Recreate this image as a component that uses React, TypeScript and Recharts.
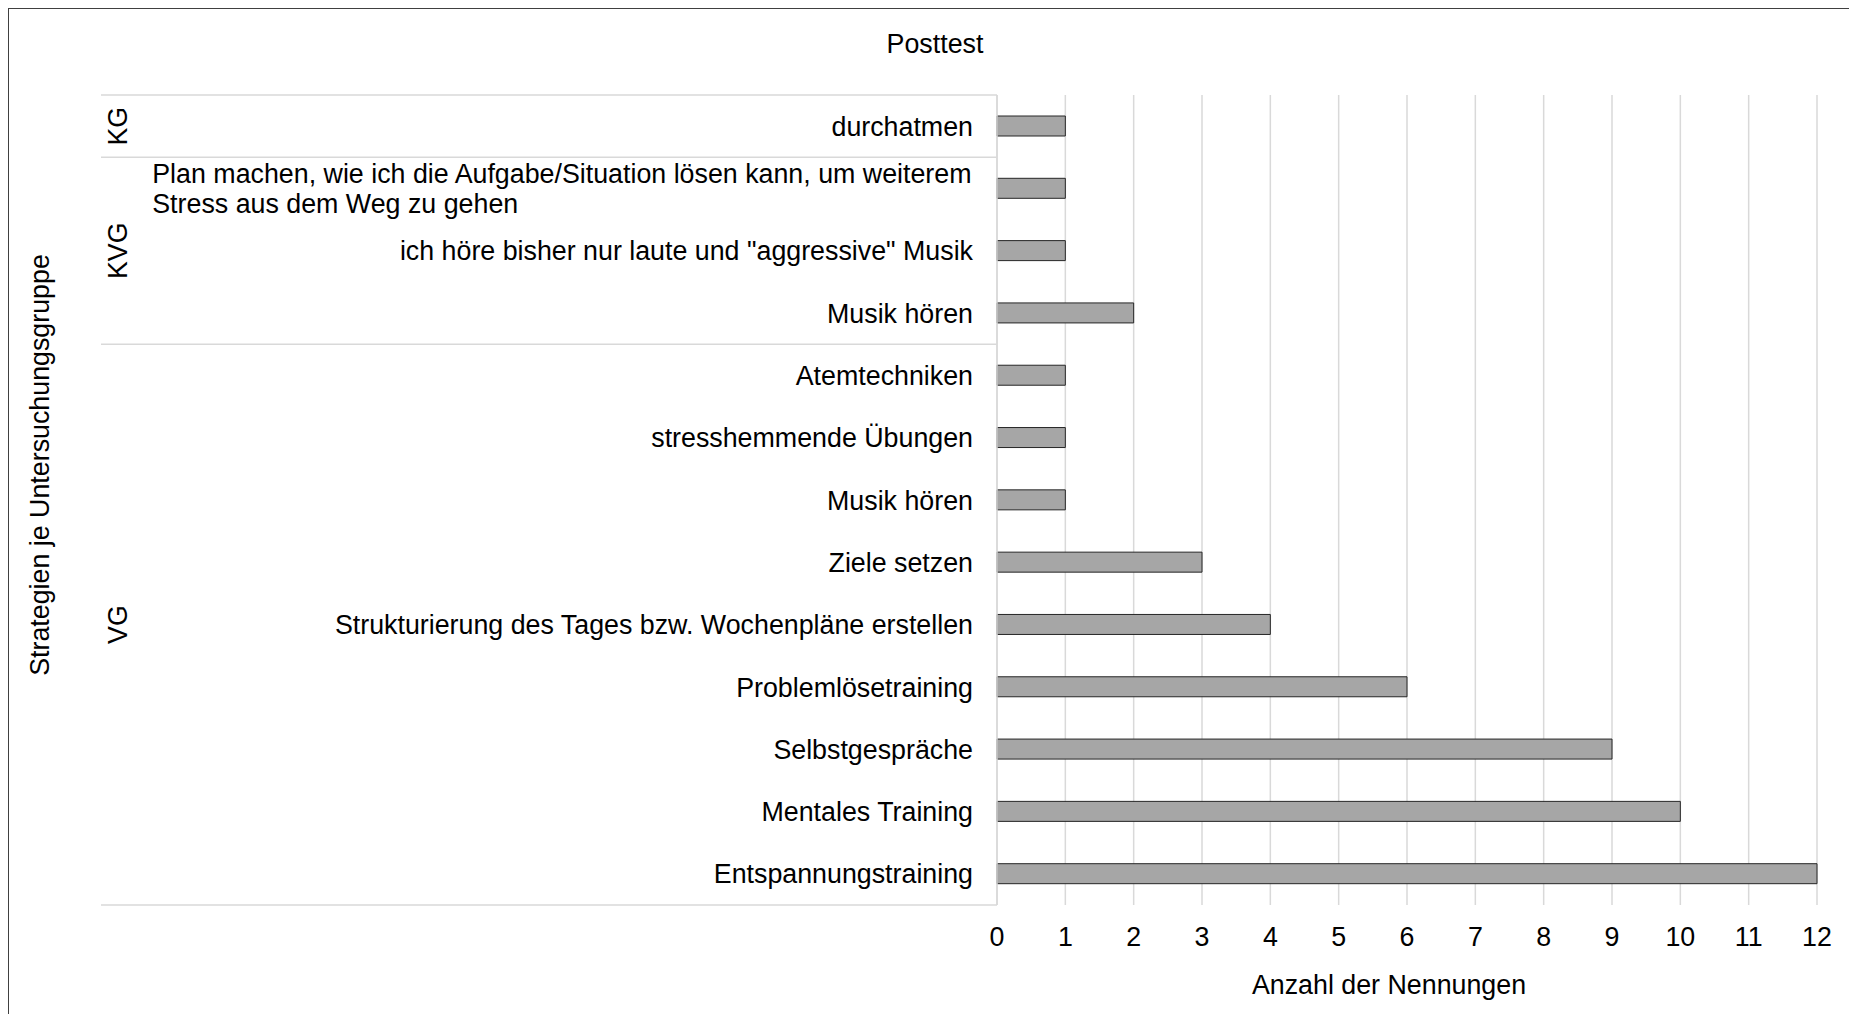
import { Bar, BarChart, CartesianGrid, XAxis, YAxis } from 'recharts';

const groups = ['KG', 'KVG', 'KVG', 'KVG', 'VG', 'VG', 'VG', 'VG', 'VG', 'VG', 'VG', 'VG', 'VG'];
const strategies = [
  'durchatmen',
  'Plan machen, wie ich die Aufgabe/Situation lösen kann, um weiterem\nStress aus dem Weg zu gehen',
  'ich höre bisher nur laute und "aggressive" Musik',
  'Musik hören',
  'Atemtechniken',
  'stresshemmende Übungen',
  'Musik hören',
  'Ziele setzen',
  'Strukturierung des Tages bzw. Wochenpläne erstellen',
  'Problemlösetraining',
  'Selbstgespräche',
  'Mentales Training',
  'Entspannungstraining',
];
const mentions = [1, 1, 1, 2, 1, 1, 1, 3, 4, 6, 9, 10, 12];
const xTicks = [0, 1, 2, 3, 4, 5, 6, 7, 8, 9, 10, 11, 12];

const chartTitle = 'Posttest';
const xTitle = 'Anzahl der Nennungen';
const yTitle = 'Strategien je Untersuchungsgruppe';

const rows = strategies.map((label, i) => ({
  key: `${i}`,
  label,
  group: groups[i],
  value: mentions[i],
}));

const FONT = '"Liberation Sans", Arial, sans-serif';
const FS = 26.8;
const W = 1840;
const H = 1005;
const MARGIN = { top: 86, right: 32, bottom: 9, left: 0 };
const Y_W = 988;
const X_H = 100;
const PLOT_H = H - MARGIN.top - MARGIN.bottom - X_H;
const GRID = '#d9d9d9';
const SEP_X = 92;
const GROUP_X = 108;

let ctx: CanvasRenderingContext2D | null = null;
function textWidth(s: string) {
  if (!ctx) ctx = document.createElement('canvas').getContext('2d');
  if (!ctx) return s.length * FS * 0.5;
  ctx.font = `${FS}px "Liberation Sans"`;
  return ctx.measureText(s).width;
}

function CategoryTick(props: any) {
  const { x, y, index } = props;
  const row = rows[index];
  if (!row) return null;
  const band = PLOT_H / rows.length;
  const lines = row.label.split('\n');
  const right = x - 24;
  const first = index === 0 || rows[index - 1].group !== row.group;
  const last = index === rows.length - 1;
  const size = rows.filter((r) => r.group === row.group).length;
  const gy = y + ((size - 1) / 2) * band;
  const left = right - Math.max(...lines.map(textWidth));

  return (
    <g fontFamily={FONT} fontSize={FS} fill="#000">
      {first && <line x1={SEP_X} x2={x} y1={y - band / 2} y2={y - band / 2} stroke={GRID} strokeWidth={1.5} />}
      {last && <line x1={SEP_X} x2={x} y1={y + band / 2} y2={y + band / 2} stroke={GRID} strokeWidth={1.5} />}
      {first && (
        <text x={GROUP_X} y={gy} dy="0.36em" textAnchor="middle" transform={`rotate(-90 ${GROUP_X} ${gy})`}>
          {row.group}
        </text>
      )}
      {lines.length === 1 ? (
        <text x={right} y={y} dy="0.36em" textAnchor="end">
          {row.label}
        </text>
      ) : (
        lines.map((line: string, i: number) => (
          <text key={i} x={left} y={y + (i - (lines.length - 1) / 2) * 30} dy="0.36em" textAnchor="start">
            {line}
          </text>
        ))
      )}
    </g>
  );
}

function ValueTick(props: any) {
  const { x, y, payload } = props;
  return (
    <text x={x} y={y + 41} textAnchor="middle" fontFamily={FONT} fontSize={FS} fill="#000">
      {payload.value}
    </text>
  );
}

function XTitle(props: any) {
  const { viewBox } = props;
  if (!viewBox) return null;
  return (
    <text x={viewBox.x + viewBox.width / 2 - 18} y={viewBox.y + 89} textAnchor="middle" fontFamily={FONT} fontSize={FS} fill="#000">
      {xTitle}
    </text>
  );
}

function Titles() {
  return (
    <g fontFamily={FONT} fontSize={FS} fill="#000">
      <text x={926} y={44} textAnchor="middle">
        {chartTitle}
      </text>
      <text x={30} y={456} dy="0.36em" textAnchor="middle" transform="rotate(-90 30 456)">
        {yTitle}
      </text>
    </g>
  );
}

export default function App() {
  return (
    <div style={{ width: W, height: H, borderTop: '1px solid #404040', borderLeft: '1px solid #404040' }}>
      <BarChart width={W} height={H} data={rows} layout="vertical" margin={MARGIN} barCategoryGap={0}>
        <CartesianGrid horizontal={false} stroke={GRID} strokeWidth={1.5} />
        <XAxis
          type="number"
          domain={[0, 12]}
          ticks={xTicks}
          interval={0}
          axisLine={false}
          tickLine={false}
          tickSize={0}
          tickMargin={0}
          height={X_H}
          tick={<ValueTick />}
          label={<XTitle />}
        />
        <YAxis
          type="category"
          dataKey="key"
          width={Y_W}
          interval={0}
          axisLine={{ stroke: GRID, strokeWidth: 1.5 }}
          tickLine={false}
          tickSize={0}
          tickMargin={0}
          tick={<CategoryTick />}
          label={<Titles />}
        />
        <Bar dataKey="value" fill="#a6a6a6" stroke="#262626" strokeWidth={1} barSize={20} isAnimationActive={false} />
      </BarChart>
    </div>
  );
}
